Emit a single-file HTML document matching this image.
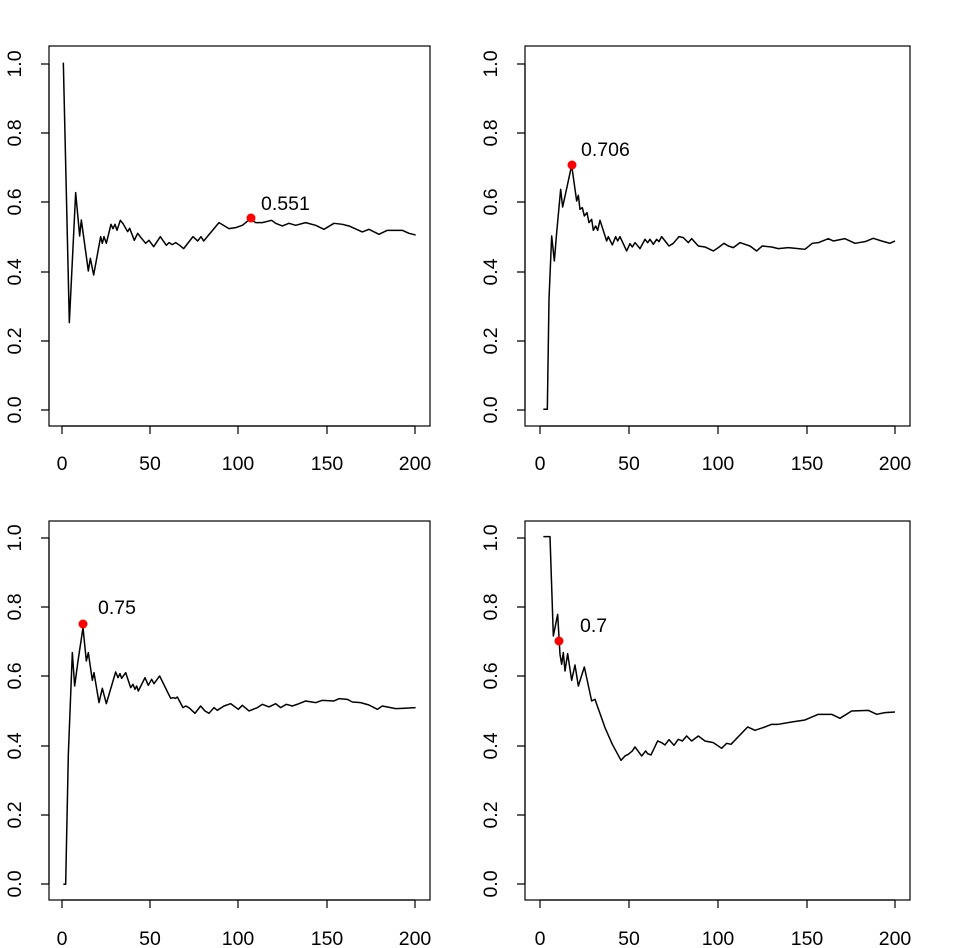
<!DOCTYPE html>
<html><head><style>body{margin:0;background:#fff}svg{display:block}text{font-family:"Liberation Sans",sans-serif;font-size:19.5px;fill:#000}</style></head><body>
<svg width="958" height="948" viewBox="0 0 958 948" xmlns="http://www.w3.org/2000/svg">
<g fill="none" stroke="#000" stroke-width="1.2">
<rect x="49" y="46" width="381" height="380"/>
<rect x="525" y="46" width="385" height="380"/>
<rect x="49" y="521" width="381" height="379"/>
<rect x="525" y="521" width="385" height="379"/>
<path d="M62 426V434M150 426V434M238 426V434M327 426V434M415 426V434M62 426H415"/>
<path d="M49 64H41M49 133H41M49 202H41M49 272H41M49 341H41M49 410H41M49 64V410"/>
<path d="M540 426V434M629 426V434M718 426V434M807 426V434M895 426V434M540 426H895"/>
<path d="M525 64H517M525 133H517M525 202H517M525 272H517M525 341H517M525 410H517M525 64V410"/>
<path d="M62 900V908M150 900V908M238 900V908M327 900V908M415 900V908M62 900H415"/>
<path d="M49 538H41M49 607H41M49 676H41M49 746H41M49 815H41M49 884H41M49 538V884"/>
<path d="M540 900V908M629 900V908M718 900V908M807 900V908M895 900V908M540 900H895"/>
<path d="M525 538H517M525 607H517M525 676H517M525 746H517M525 815H517M525 884H517M525 538V884"/>
</g>
<g text-anchor="middle">
<text x="62" y="470">0</text><text x="150" y="470">50</text><text x="238" y="470">100</text><text x="327" y="470">150</text><text x="415" y="470">200</text>
<text x="540" y="470">0</text><text x="629" y="470">50</text><text x="718" y="470">100</text><text x="807" y="470">150</text><text x="895" y="470">200</text>
<text x="62" y="945">0</text><text x="150" y="945">50</text><text x="238" y="945">100</text><text x="327" y="945">150</text><text x="415" y="945">200</text>
<text x="540" y="945">0</text><text x="629" y="945">50</text><text x="718" y="945">100</text><text x="807" y="945">150</text><text x="895" y="945">200</text>
<g transform="translate(21,0)">
<text transform="translate(0,64) rotate(-90)">1.0</text><text transform="translate(0,133) rotate(-90)">0.8</text><text transform="translate(0,202) rotate(-90)">0.6</text><text transform="translate(0,272) rotate(-90)">0.4</text><text transform="translate(0,341) rotate(-90)">0.2</text><text transform="translate(0,410) rotate(-90)">0.0</text>
<text transform="translate(0,538) rotate(-90)">1.0</text><text transform="translate(0,607) rotate(-90)">0.8</text><text transform="translate(0,676) rotate(-90)">0.6</text><text transform="translate(0,746) rotate(-90)">0.4</text><text transform="translate(0,815) rotate(-90)">0.2</text><text transform="translate(0,884) rotate(-90)">0.0</text>
</g>
<g transform="translate(497,0)">
<text transform="translate(0,64) rotate(-90)">1.0</text><text transform="translate(0,133) rotate(-90)">0.8</text><text transform="translate(0,202) rotate(-90)">0.6</text><text transform="translate(0,272) rotate(-90)">0.4</text><text transform="translate(0,341) rotate(-90)">0.2</text><text transform="translate(0,410) rotate(-90)">0.0</text>
<text transform="translate(0,538) rotate(-90)">1.0</text><text transform="translate(0,607) rotate(-90)">0.8</text><text transform="translate(0,676) rotate(-90)">0.6</text><text transform="translate(0,746) rotate(-90)">0.4</text><text transform="translate(0,815) rotate(-90)">0.2</text><text transform="translate(0,884) rotate(-90)">0.0</text>
</g>
</g>
<g fill="none" stroke="#000" stroke-width="1.5" stroke-linejoin="round">
<g transform="translate(49,46) scale(0.3333)"><polyline vector-effect="non-scaling-stroke" points="43,50 61,830 80,440 92,570 97,522 118,675 124,637 134,687 155,572 160,592 165,572 172,592 186,535 192,548 198,535 204,553 214,523 222,533 236,557 242,547 256,583 266,562 276,575 290,592 300,583 314,602 334,572 352,598 360,590 370,596 380,590 392,598 404,608 432,572 446,585 456,572 464,585 510,530 540,548 560,545 580,538 605,518 620,530 640,530 668,523 680,532 700,540 720,532 740,538 770,530 800,538 825,550 855,532 880,535 900,540 940,558 960,550 990,565 1015,553 1060,553 1080,562 1100,567"/></g>
<g transform="translate(525,46) scale(0.3333)"><polyline vector-effect="non-scaling-stroke" points="55,1090 67,1090 72,760 80,570 88,645 95,560 107,430 113,483 140,358 155,465 160,448 165,490 172,485 178,510 186,500 192,530 200,520 205,553 212,540 218,553 225,523 245,585 250,572 262,597 272,572 278,585 285,572 305,615 315,593 322,603 330,590 337,598 345,608 360,580 368,590 375,580 385,595 395,580 402,587 410,572 432,600 445,592 462,572 475,575 490,590 500,578 520,600 540,603 565,615 580,605 597,592 610,600 625,605 645,590 660,595 675,600 695,615 712,600 740,603 760,608 790,605 820,608 840,610 862,592 880,590 910,578 925,585 960,578 990,592 1020,587 1045,577 1070,585 1095,592 1110,585"/></g>
<g transform="translate(49,521) scale(0.3333)"><polyline vector-effect="non-scaling-stroke" points="43,1090 50,1090 58,700 70,395 77,495 87,420 102,320 112,420 118,395 130,478 135,455 150,545 160,502 172,548 200,453 207,470 213,458 218,472 230,455 245,500 252,490 258,505 263,495 268,510 288,470 298,493 308,475 315,488 332,465 365,532 372,530 380,532 385,528 402,560 410,555 420,560 438,577 455,555 468,570 480,577 495,560 505,568 525,555 545,548 568,565 580,553 600,570 625,560 640,550 660,558 680,548 695,560 712,550 730,555 750,548 770,540 800,545 820,538 855,540 870,533 895,535 910,543 935,545 960,552 985,565 1000,555 1040,563 1060,562 1100,560"/></g>
<g transform="translate(525,521) scale(0.3333)"><polyline vector-effect="non-scaling-stroke" points="55,47 75,47 85,345 98,280 105,400 110,430 115,395 120,450 128,398 140,478 150,432 160,495 178,438 200,540 210,535 240,620 262,670 288,718 300,705 310,700 322,690 330,678 350,705 362,690 368,698 378,702 398,660 410,665 420,672 432,656 447,673 460,655 472,660 485,645 500,660 520,645 540,660 565,665 590,682 605,667 618,670 668,618 690,628 720,618 740,610 760,610 800,603 840,597 880,580 920,580 945,592 980,570 1030,568 1055,580 1080,575 1110,573"/></g>
</g>
<g fill="#f00">
<circle cx="251" cy="218" r="4.5"/><circle cx="572" cy="165" r="4.5"/><circle cx="83" cy="624" r="4.5"/><circle cx="559" cy="641" r="4.5"/>
</g>
<text x="261" y="210">0.551</text>
<text x="581" y="156">0.706</text>
<text x="98" y="614">0.75</text>
<text x="580" y="632">0.7</text>
</svg>
</body></html>
